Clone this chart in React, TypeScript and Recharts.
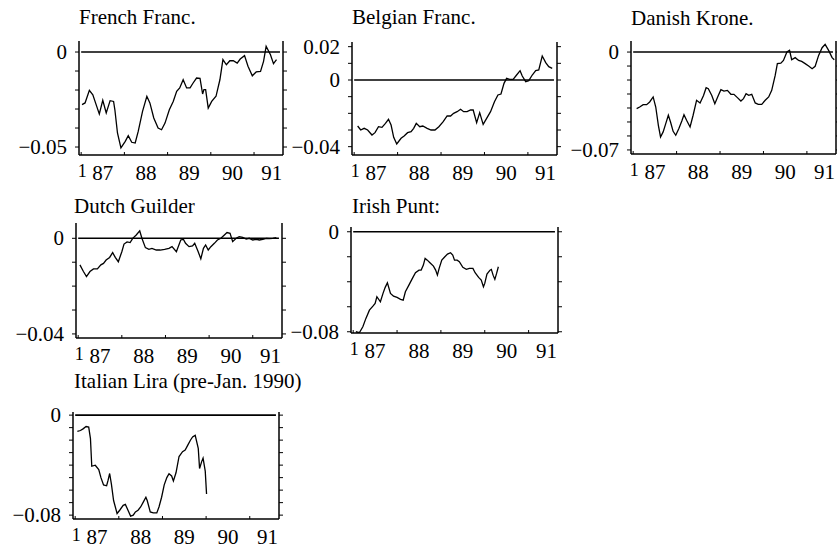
import { LineChart, Line, XAxis, YAxis, ReferenceLine } from 'recharts';

const FONT = '"Liberation Serif", "DejaVu Serif", serif';

// x axis: years (decimal), labels sit mid-year
const YEARS = [1987, 1988, 1989, 1990, 1991];
const YEAR_LABELS = ['87', '88', '89', '90', '91'];
const X_DOMAIN: [number, number] = [1986.95, 1991.67];

// French Franc
const frenchTimes = [1987.02, 1987.09, 1987.19, 1987.27, 1987.36, 1987.42, 1987.5, 1987.58, 1987.67, 1987.75, 1987.78, 1987.84, 1987.92, 1988.02, 1988.09, 1988.17, 1988.25, 1988.32, 1988.42, 1988.52, 1988.59, 1988.68, 1988.78, 1988.86, 1988.94, 1989.04, 1989.13, 1989.21, 1989.28, 1989.36, 1989.44, 1989.52, 1989.59, 1989.67, 1989.75, 1989.81, 1989.84, 1989.88, 1989.94, 1990.02, 1990.12, 1990.21, 1990.28, 1990.36, 1990.44, 1990.52, 1990.61, 1990.68, 1990.78, 1990.86, 1990.96, 1991.05, 1991.15, 1991.22, 1991.28, 1991.38, 1991.45, 1991.52];
const frenchValues = [-0.0277, -0.0268, -0.0202, -0.0225, -0.0286, -0.0326, -0.0254, -0.0321, -0.0256, -0.026, -0.0304, -0.0426, -0.0505, -0.047, -0.044, -0.0475, -0.0479, -0.0418, -0.0312, -0.0233, -0.0268, -0.0347, -0.04, -0.0409, -0.0374, -0.0304, -0.026, -0.0207, -0.0189, -0.0146, -0.0189, -0.0189, -0.0163, -0.0137, -0.0139, -0.0221, -0.0198, -0.0198, -0.0295, -0.026, -0.0233, -0.0146, -0.004, -0.0067, -0.0046, -0.0046, -0.0058, -0.0037, -0.0019, -0.0075, -0.0125, -0.0105, -0.0102, -0.0049, 0.003, -0.0014, -0.0061, -0.004];

// Belgian Franc
const belgianTimes = [1987.08, 1987.15, 1987.23, 1987.31, 1987.41, 1987.48, 1987.56, 1987.64, 1987.72, 1987.79, 1987.85, 1987.91, 1987.98, 1988.08, 1988.15, 1988.23, 1988.31, 1988.37, 1988.43, 1988.51, 1988.58, 1988.68, 1988.77, 1988.86, 1988.95, 1989.05, 1989.14, 1989.22, 1989.29, 1989.37, 1989.45, 1989.52, 1989.6, 1989.68, 1989.74, 1989.82, 1989.89, 1989.97, 1990.05, 1990.14, 1990.23, 1990.31, 1990.38, 1990.45, 1990.51, 1990.58, 1990.66, 1990.74, 1990.82, 1990.87, 1990.95, 1991.02, 1991.1, 1991.18, 1991.25, 1991.33, 1991.41, 1991.48, 1991.56];
const belgianValues = [-0.0276, -0.03, -0.029, -0.03, -0.033, -0.0316, -0.028, -0.0284, -0.026, -0.0236, -0.027, -0.0344, -0.0384, -0.035, -0.0336, -0.0316, -0.031, -0.029, -0.026, -0.028, -0.0276, -0.029, -0.03, -0.03, -0.028, -0.025, -0.0216, -0.0216, -0.02, -0.019, -0.0176, -0.019, -0.019, -0.018, -0.018, -0.0256, -0.0196, -0.0266, -0.023, -0.019, -0.013, -0.009, -0.0084, -0.002, 0.001, 0.0004, 0.0004, 0.003, 0.0056, 0.0024, -0.001, -0.0004, 0.003, 0.0056, 0.006, 0.0144, 0.0104, 0.008, 0.007];

// Danish Krone
const danishTimes = [1987.08, 1987.15, 1987.23, 1987.31, 1987.38, 1987.46, 1987.52, 1987.58, 1987.63, 1987.69, 1987.75, 1987.81, 1987.86, 1987.92, 1987.98, 1988.05, 1988.12, 1988.17, 1988.23, 1988.31, 1988.38, 1988.46, 1988.54, 1988.62, 1988.68, 1988.73, 1988.81, 1988.88, 1988.96, 1989.02, 1989.09, 1989.17, 1989.25, 1989.32, 1989.4, 1989.48, 1989.54, 1989.6, 1989.66, 1989.73, 1989.81, 1989.88, 1989.96, 1990.04, 1990.12, 1990.19, 1990.27, 1990.32, 1990.4, 1990.46, 1990.54, 1990.6, 1990.65, 1990.73, 1990.81, 1990.88, 1990.96, 1991.04, 1991.12, 1991.19, 1991.27, 1991.35, 1991.42, 1991.5, 1991.58, 1991.63];
const danishValues = [-0.0405, -0.0393, -0.0376, -0.0376, -0.0357, -0.0321, -0.0393, -0.0524, -0.0607, -0.0571, -0.0512, -0.0452, -0.05, -0.0567, -0.0595, -0.0548, -0.0493, -0.0448, -0.0488, -0.0536, -0.0452, -0.0345, -0.0364, -0.031, -0.0255, -0.0262, -0.031, -0.0369, -0.031, -0.0269, -0.0279, -0.0274, -0.0302, -0.0302, -0.0326, -0.035, -0.0333, -0.0298, -0.031, -0.0302, -0.0364, -0.0374, -0.0374, -0.0345, -0.0321, -0.0274, -0.0167, -0.0083, -0.0079, -0.006, 0.0, 0.0012, -0.0055, -0.004, -0.006, -0.0067, -0.0083, -0.01, -0.0119, -0.0102, -0.0024, 0.0031, 0.0055, 0.0012, -0.004, -0.0055];

// Dutch Guilder
const dutchTimes = [1987.04, 1987.12, 1987.19, 1987.27, 1987.35, 1987.44, 1987.52, 1987.58, 1987.64, 1987.72, 1987.79, 1987.85, 1987.92, 1988.0, 1988.05, 1988.12, 1988.19, 1988.25, 1988.33, 1988.41, 1988.46, 1988.54, 1988.62, 1988.69, 1988.79, 1988.88, 1988.98, 1989.08, 1989.15, 1989.25, 1989.35, 1989.41, 1989.46, 1989.54, 1989.62, 1989.67, 1989.75, 1989.81, 1989.87, 1989.92, 1989.98, 1990.04, 1990.12, 1990.19, 1990.27, 1990.35, 1990.41, 1990.48, 1990.54, 1990.62, 1990.69, 1990.77, 1990.85, 1990.92, 1991.0, 1991.08, 1991.15, 1991.23, 1991.31, 1991.38, 1991.46, 1991.54];
const dutchValues = [-0.0111, -0.0139, -0.016, -0.0139, -0.0128, -0.0128, -0.0111, -0.0105, -0.0091, -0.008, -0.006, -0.008, -0.0098, -0.0056, -0.0024, -0.0015, -0.0018, 0.0, 0.0014, 0.0031, 0.0, -0.0039, -0.0046, -0.0042, -0.0049, -0.0049, -0.0046, -0.0042, -0.0035, -0.0056, -0.0007, -0.0004, -0.0021, -0.0035, -0.0032, -0.0021, -0.0056, -0.0086, -0.0042, -0.0028, -0.0049, -0.0035, -0.0021, -0.0007, 0.0, 0.0014, 0.0024, 0.0021, -0.0014, 0.0, 0.0007, 0.0004, -0.0003, 0.0, -0.0007, -0.0004, -0.0007, -0.0004, 0.0, -0.0001, 0.0, 0.0003];

// Irish Punt
const irishTimes = [1987.06, 1987.14, 1987.22, 1987.29, 1987.37, 1987.45, 1987.5, 1987.54, 1987.62, 1987.68, 1987.73, 1987.78, 1987.85, 1987.92, 1988.0, 1988.08, 1988.14, 1988.19, 1988.27, 1988.35, 1988.42, 1988.5, 1988.55, 1988.6, 1988.64, 1988.69, 1988.75, 1988.83, 1988.88, 1988.92, 1988.96, 1989.02, 1989.09, 1989.15, 1989.22, 1989.27, 1989.31, 1989.37, 1989.42, 1989.5, 1989.58, 1989.65, 1989.73, 1989.78, 1989.86, 1989.92, 1989.97, 1990.0, 1990.05, 1990.12, 1990.15, 1990.19, 1990.23, 1990.27, 1990.31];
const irishValues = [-0.08, -0.0808, -0.076, -0.0693, -0.0627, -0.0595, -0.0573, -0.052, -0.056, -0.0493, -0.0445, -0.0408, -0.0493, -0.0515, -0.0525, -0.0541, -0.0547, -0.048, -0.0427, -0.0373, -0.0328, -0.0307, -0.0307, -0.0267, -0.0213, -0.0227, -0.0248, -0.0275, -0.0307, -0.0347, -0.0293, -0.0227, -0.02, -0.0179, -0.0168, -0.0187, -0.0227, -0.0227, -0.024, -0.0285, -0.0301, -0.0293, -0.0293, -0.0328, -0.0365, -0.0387, -0.044, -0.0413, -0.0339, -0.0307, -0.0301, -0.0347, -0.0381, -0.0333, -0.028];

// Italian Lira (pre-Jan. 1990)
const italianTimes = [1987.05, 1987.12, 1987.18, 1987.25, 1987.31, 1987.35, 1987.38, 1987.46, 1987.54, 1987.59, 1987.65, 1987.72, 1987.75, 1987.79, 1987.83, 1987.88, 1987.96, 1988.02, 1988.1, 1988.15, 1988.21, 1988.27, 1988.33, 1988.38, 1988.44, 1988.5, 1988.56, 1988.62, 1988.65, 1988.72, 1988.79, 1988.87, 1988.92, 1988.98, 1989.04, 1989.1, 1989.15, 1989.21, 1989.25, 1989.31, 1989.38, 1989.46, 1989.52, 1989.58, 1989.64, 1989.69, 1989.75, 1989.82, 1989.85, 1989.9, 1989.93, 1989.98, 1990.01];
const italianValues = [-0.013, -0.0123, -0.011, -0.0091, -0.0096, -0.0188, -0.0409, -0.0401, -0.0435, -0.05, -0.0558, -0.0565, -0.0526, -0.0467, -0.0552, -0.0683, -0.0787, -0.0761, -0.0722, -0.0714, -0.0761, -0.0808, -0.08, -0.0774, -0.0761, -0.0735, -0.0696, -0.0657, -0.0683, -0.0774, -0.0782, -0.0782, -0.0735, -0.0657, -0.0558, -0.05, -0.0469, -0.0487, -0.0526, -0.0461, -0.0331, -0.0292, -0.0279, -0.024, -0.0201, -0.0175, -0.0162, -0.0266, -0.0427, -0.037, -0.0344, -0.0448, -0.0631];

const LEFT_PAD = 80;
const RIGHT_PAD = 12;
const TOP_PAD = 16;
const BOTTOM_PAD = 34;

const BottomTick = (props: any) => {
  const { x, y, payload, index, half } = props;
  const i = YEARS.indexOf(payload.value);
  // last label sits a little tighter to the right edge in the original
  const shift = i === 4 ? -4 : 0;
  return (
    <g>
      <line x1={x} x2={x} y1={y} y2={y - 3} stroke="#000" strokeWidth={1} />
      {index === 0 && (
        <text x={x + 1} y={y + 22} textAnchor="middle" fontSize={18} fontFamily={FONT} fill="#000">1</text>
      )}
      <text x={x + half + shift} y={y + 25} textAnchor="middle" fontSize={21} fontFamily={FONT} fill="#000">
        {YEAR_LABELS[i]}
      </text>
    </g>
  );
};

const LeftTick = (props: any) => {
  const { x, y, payload, labels, values } = props;
  const i = values.indexOf(payload.value);
  if (i < 0) return <g />;
  return (
    <text x={x} y={y} dy="0.34em" textAnchor="end" fontSize={21} fontFamily={FONT} fill="#000">
      {labels[i]}
    </text>
  );
};

const NoLabel = () => <g />;

type PanelProps = {
  title: string;
  left: number;
  top: number;
  w: number;
  h: number;
  titleX: number;
  titleY: number;
  yDomain: [number, number];
  yTicks: number[];
  yLabels: string[];
  minorTicks: number[];
  times: number[];
  values: number[];
};

const Panel = ({ title, left, top, w, h, titleX, titleY, yDomain, yTicks, yLabels, minorTicks, times, values }: PanelProps) => {
  const data = times.map((t, i) => ({ t, v: values[i] }));
  const half = (w / (X_DOMAIN[1] - X_DOMAIN[0])) / 2;
  const axis = { stroke: '#000', strokeWidth: 1.5 };
  return (
    <>
      <div style={{
        position: 'absolute',
        left: titleX,
        top: titleY - 17,
        fontFamily: FONT,
        fontSize: '21px',
        lineHeight: '20px',
        color: '#000',
        whiteSpace: 'nowrap',
      }}>
        {title}
      </div>
      <div style={{ position: 'absolute', left: left - LEFT_PAD, top: top - TOP_PAD }}>
        <LineChart
          width={LEFT_PAD + w + RIGHT_PAD}
          height={TOP_PAD + h + BOTTOM_PAD}
          data={data}
          margin={{ top: TOP_PAD, right: 0, bottom: 0, left: 0 }}
        >
          <XAxis
            xAxisId="b"
            dataKey="t"
            type="number"
            domain={X_DOMAIN}
            allowDataOverflow
            ticks={YEARS}
            height={BOTTOM_PAD}
            axisLine={axis}
            tickLine={false}
            tickSize={0}
            tickMargin={0}
            tick={<BottomTick half={half} />}
            interval={0}
          />
          <XAxis
            xAxisId="t"
            orientation="top"
            dataKey="t"
            type="number"
            domain={X_DOMAIN}
            allowDataOverflow
            ticks={YEARS}
            height={0}
            axisLine={axis}
            tickLine={{ stroke: '#000' }}
            tickSize={3}
            tick={<NoLabel />}
            interval={0}
          />
          <YAxis
            yAxisId="l"
            type="number"
            domain={yDomain}
            allowDataOverflow
            ticks={minorTicks}
            width={LEFT_PAD}
            axisLine={axis}
            tickLine={{ stroke: '#000' }}
            tickSize={4}
            tickMargin={8}
            interval={0}
            tick={<LeftTick labels={yLabels} values={yTicks} />}
          />
          <YAxis
            yAxisId="r"
            orientation="right"
            type="number"
            domain={yDomain}
            allowDataOverflow
            ticks={minorTicks}
            width={RIGHT_PAD}
            axisLine={axis}
            tickLine={{ stroke: '#000' }}
            tickSize={4}
            tick={<NoLabel />}
            interval={0}
          />
          <ReferenceLine
            xAxisId="b"
            yAxisId="l"
            segment={[{ x: 1987.0, y: 0 }, { x: 1991.6, y: 0 }]}
            stroke="#000"
            strokeWidth={1.6}
          />
          <Line
            xAxisId="b"
            yAxisId="l"
            type="linear"
            dataKey="v"
            stroke="#000"
            strokeWidth={1.3}
            dot={false}
            isAnimationActive={false}
          />
        </LineChart>
      </div>
    </>
  );
};

// tick values from `from` down to `to`, rounded
const steps = (from: number, to: number, step: number) => {
  const out: number[] = [];
  for (let v = from; v >= to - 1e-9; v -= step) out.push(Math.round(v * 1000) / 1000);
  return out;
};

export default function App() {
  return (
    <div style={{ position: 'absolute', left: 0, top: 0, width: 837, height: 548, background: '#fff', overflow: 'hidden' }}>
      <Panel title="French Franc." left={79} top={41} w={204} h={114} titleX={79} titleY={24}
        yDomain={[-0.0542, 0.0058]} yTicks={[0, -0.05]} yLabels={['0', '\u22120.05']}
        minorTicks={steps(0, -0.05, 0.01)} times={frenchTimes} values={frenchValues} />
      <Panel title="Belgian Franc." left={352} top={42} w={205} h={113} titleX={352} titleY={24}
        yDomain={[-0.045, 0.0228]} yTicks={[0.02, 0, -0.04]} yLabels={['0.02', '0', '\u22120.04']}
        minorTicks={steps(0.02, -0.04, 0.01)} times={belgianTimes} values={belgianValues} />
      <Panel title="Danish Krone." left={631} top={41} w={205} h={113} titleX={631} titleY={25}
        yDomain={[-0.0729, 0.0079]} yTicks={[0, -0.07]} yLabels={['0', '\u22120.07']}
        minorTicks={steps(0, -0.07, 0.01)} times={danishTimes} values={danishValues} />
      <Panel title="Dutch Guilder" left={76} top={223} w={206} h={115} titleX={74} titleY={213}
        yDomain={[-0.0417, 0.0064]} yTicks={[0, -0.04]} yLabels={['0', '\u22120.04']}
        minorTicks={steps(0, -0.04, 0.01)} times={dutchTimes} values={dutchValues} />
      <Panel title="Irish Punt:" left={351} top={227} w={207} h={106} titleX={352} titleY={213}
        yDomain={[-0.081, 0.0038]} yTicks={[0, -0.08]} yLabels={['0', '\u22120.08']}
        minorTicks={steps(0, -0.08, 0.02)} times={irishTimes} values={irishValues} />
      <Panel title="Italian Lira (pre-Jan. 1990)" left={73} top={412} w={206} h={107} titleX={74} titleY={388}
        yDomain={[-0.0831, 0.0025]} yTicks={[0, -0.08]} yLabels={['0', '\u22120.08']}
        minorTicks={steps(0, -0.08, 0.01)} times={italianTimes} values={italianValues} />
    </div>
  );
}
